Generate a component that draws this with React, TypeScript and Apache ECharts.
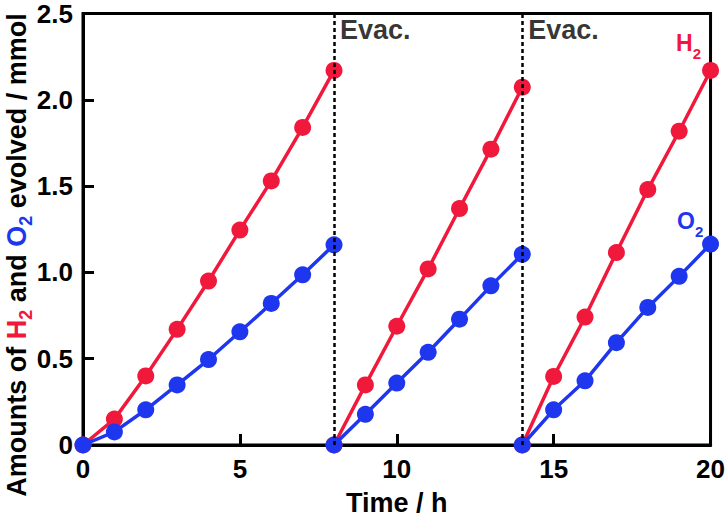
import React, { useEffect, useRef } from "react";
import * as echarts from "echarts";

const TIME_RUN1 = [0, 1, 2, 3, 4, 5, 6, 7, 8];
const H2_RUN1 = [0, 0.15, 0.4, 0.67, 0.95, 1.245, 1.53, 1.84, 2.17];
const O2_RUN1 = [0, 0.076, 0.204, 0.348, 0.495, 0.656, 0.82, 0.986, 1.16];

const TIME_RUN2 = [8, 9, 10, 11, 12, 13, 14];
const H2_RUN2 = [0, 0.348, 0.688, 1.02, 1.37, 1.714, 2.073];
const O2_RUN2 = [0, 0.178, 0.359, 0.537, 0.729, 0.922, 1.105];

const TIME_RUN3 = [14, 15, 16, 17, 18, 19, 20];
const H2_RUN3 = [0, 0.397, 0.741, 1.115, 1.48, 1.818, 2.17];
const O2_RUN3 = [0, 0.204, 0.372, 0.593, 0.797, 0.977, 1.164];

const EVAC_TIMES = [8, 14];
const EVAC_TEXT = "Evac.";

const RED = "#F0193C";
const BLUE = "#1E36EE";
const FONT = "Liberation Sans, Arial, Helvetica, sans-serif";

function pairs(xs: number[], ys: number[]) {
  return xs.map((x, i) => [x, ys[i]]);
}

export default function App() {
  const ref = useRef<HTMLDivElement>(null);
  useEffect(() => {
    if (!ref.current) return;
    const chart = echarts.init(ref.current, undefined, { renderer: "svg" });

    const lineSeries = (
      name: string,
      xs: number[],
      ys: number[],
      color: string,
      endLabel?: any
    ) => {
      const data: any[] = pairs(xs, ys);
      if (endLabel) {
        const last = data.length - 1;
        data[last] = { value: data[last], label: endLabel };
      }
      return {
        name,
        type: "line",
        data,
        symbol: "circle",
        symbolSize: 17,
        clip: false,
        itemStyle: { color },
        lineStyle: { color, width: 3.5 },
        z: color === BLUE ? 4 : 3,
      };
    };

    const subRich = (color: string) => ({
      a: { color, fontSize: 23, fontWeight: "bold", fontFamily: FONT, lineHeight: 29, verticalAlign: "top" },
      s: { color, fontSize: 15, fontWeight: "bold", fontFamily: FONT, lineHeight: 15, verticalAlign: "bottom" },
    });

    const h2Label = {
      show: true,
      position: [-26, -30],
      align: "left",
      verticalAlign: "top",
      formatter: "{a|H}{s|2}",
      rich: subRich(RED),
    };
    const o2Label = {
      show: true,
      position: [-25, -26],
      align: "left",
      verticalAlign: "top",
      formatter: "{a|O}{s|2}",
      rich: subRich(BLUE),
    };

    const axisLabelStyle = {
      color: "#000",
      fontSize: 26,
      lineHeight: 22,
      fontWeight: "bold",
      fontFamily: FONT,
    };

    const titleTok = (fill: string) => ({
      fill,
      fontSize: 27,
      fontWeight: "bold",
      fontFamily: FONT,
      lineHeight: 32,
      verticalAlign: "top",
    });
    const titleSub = (fill: string) => ({
      fill,
      fontSize: 18,
      fontWeight: "bold",
      fontFamily: FONT,
      lineHeight: 18,
      verticalAlign: "bottom",
    });

    const option: any = {
      animation: false,
      grid: {
        left: 83,
        right: 17,
        top: 13,
        bottom: 67,
        show: true,
        borderColor: "#000",
        borderWidth: 3,
        backgroundColor: "transparent",
      },
      xAxis: {
        type: "value",
        min: 0,
        max: 20,
        interval: 5,
        name: "Time / h",
        nameLocation: "middle",
        nameGap: 44,
        nameTextStyle: { color: "#000", fontSize: 27, fontWeight: "bold", fontFamily: FONT },
        axisLine: { show: true, lineStyle: { color: "#000", width: 3 } },
        axisTick: { show: true, inside: true, length: 11, lineStyle: { color: "#000", width: 3 } },
        axisLabel: { ...axisLabelStyle, margin: 13 },
        splitLine: { show: false },
      },
      yAxis: {
        type: "value",
        min: 0,
        max: 2.5,
        interval: 0.5,
        axisLine: { show: true, lineStyle: { color: "#000", width: 3 } },
        axisTick: { show: true, inside: true, length: 11, lineStyle: { color: "#000", width: 3 } },
        axisLabel: {
          ...axisLabelStyle,
          margin: 10,
          padding: [5, 0, 0, 0],
          formatter: (v: number) => (v === 0 ? "0" : v.toFixed(1)),
        },
        splitLine: { show: false },
      },
      graphic: [
        {
          type: "text",
          x: 19,
          y: 255,
          rotation: Math.PI / 2,
          style: {
            text: "{k|Amounts of }{r|H}{rs|2}{k| and }{b|O}{bs|2}{k| evolved / mmol}",
            align: "center",
            verticalAlign: "middle",
            rich: {
              k: titleTok("#000"),
              r: titleTok(RED),
              rs: titleSub(RED),
              b: titleTok(BLUE),
              bs: titleSub(BLUE),
            },
          },
        },
      ],
      series: [
        {
          name: "evac",
          type: "scatter",
          data: EVAC_TIMES.map((t) => [t, 2.5]),
          symbolSize: 0,
          clip: false,
          silent: true,
          label: {
            show: true,
            formatter: EVAC_TEXT,
            position: [6, 3],
            align: "left",
            verticalAlign: "top",
            color: "#000",
            fontSize: 27,
            fontWeight: "bold",
            fontFamily: FONT,
          },
          markLine: {
            silent: true,
            symbol: "none",
            label: { show: false },
            lineStyle: { color: "#000", width: 2.5, type: [4, 3] },
            data: EVAC_TIMES.map((t) => ({ xAxis: t })),
          },
          z: 2,
        },
        lineSeries("H2 run1", TIME_RUN1, H2_RUN1, RED),
        lineSeries("H2 run2", TIME_RUN2, H2_RUN2, RED),
        lineSeries("H2 run3", TIME_RUN3, H2_RUN3, RED, h2Label),
        lineSeries("O2 run1", TIME_RUN1, O2_RUN1, BLUE),
        lineSeries("O2 run2", TIME_RUN2, O2_RUN2, BLUE),
        lineSeries("O2 run3", TIME_RUN3, O2_RUN3, BLUE, o2Label),
      ],
    };
    chart.setOption(option);
    return () => chart.dispose();
  }, []);
  return (
    <div
      ref={ref}
      style={{ position: "fixed", left: 0, top: 0, width: 728, height: 521, background: "#fff" }}
    />
  );
}
